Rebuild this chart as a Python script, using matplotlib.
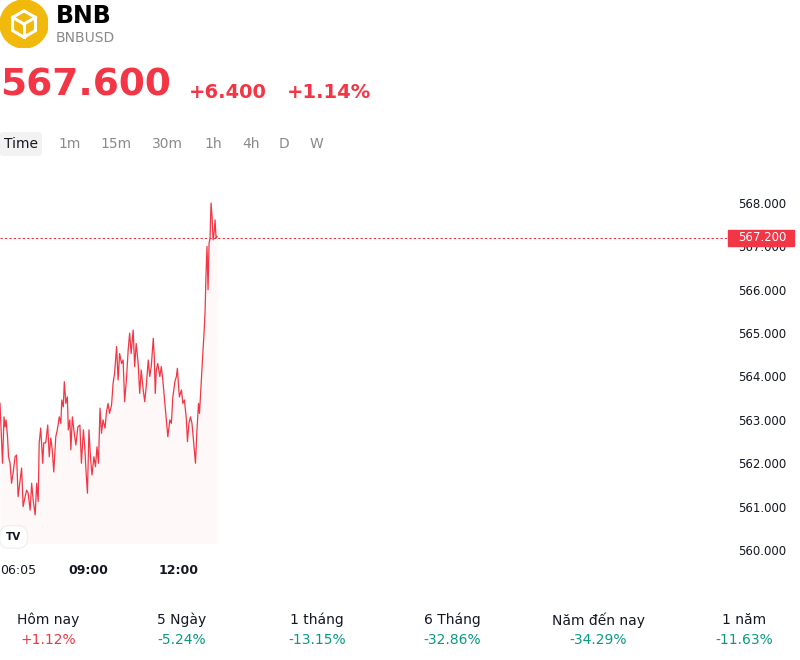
import matplotlib.pyplot as plt
import matplotlib.patches as mpatches
import numpy as np

# ── Data ────────────────────────────────────────────────
symbol = "BNB"
ticker = "BNBUSD"
last_price = "567.600"
change_abs = "+6.400"
change_pct = "+1.14%"
axis_price = 567.2
start_minute = 6 * 60 + 5  # 06:05

# minutes after 06:05 and price
minutes = [0, 3, 5, 8, 10, 12, 15, 17, 20, 23,
           26, 30, 33, 36, 40, 43, 46, 50, 53, 56,
           60, 63, 66, 70, 73, 76, 78, 81, 85, 87,
           91, 95, 98, 101, 104, 107, 111, 114, 118, 121,
           123, 126, 128, 131, 134, 136, 139, 141, 144, 147,
           151, 155, 159, 162, 166, 169, 171, 174, 177, 180,
           183, 187, 190, 193, 196, 199, 202, 205, 209, 212,
           215, 218, 222, 225, 228, 232, 235, 238, 242, 245,
           248, 252, 255, 258, 261, 265, 268, 271, 275, 278,
           281, 285, 288, 291, 295, 298, 301, 305, 307, 309,
           311, 314, 318, 321, 324, 328, 331, 334, 338, 341,
           344, 348, 351, 353, 355, 357, 361, 364, 367, 371,
           373, 376, 379, 382, 385, 389, 392, 395, 397, 401,
           404, 406, 408, 410, 412, 414, 416, 418, 420, 422,
           424, 426, 428, 430, 432]
prices = [563.38, 562.54, 562.0, 563.07, 562.84, 563.0, 562.61, 562.15, 562.0, 561.54,
          561.77, 562.15, 562.19, 561.23, 561.61, 561.89, 561.0, 561.23, 561.38, 561.31,
          560.92, 561.54, 561.15, 560.81, 561.54, 561.12, 562.47, 562.81, 562.0, 562.47,
          562.47, 562.88, 562.15, 562.58, 562.31, 561.8, 562.61, 562.77, 563.07, 562.92,
          563.46, 563.30, 563.88, 563.38, 563.53, 562.77, 563.0, 562.31, 563.07, 562.77,
          562.42, 562.84, 562.88, 562.0, 562.77, 562.31, 561.85, 561.31, 562.77, 562.15,
          561.73, 562.15, 561.92, 562.38, 562.0, 563.27, 562.69, 563.0, 562.81, 563.19,
          563.38, 563.15, 563.34, 563.84, 564.07, 564.69, 563.92, 564.53, 564.30, 564.38,
          563.42, 564.0, 564.61, 565.0, 564.53, 565.07, 564.23, 564.76, 564.30, 563.61,
          564.15, 563.69, 563.42, 563.77, 564.38, 564.0, 564.23, 564.88, 564.46, 563.61,
          564.15, 564.30, 564.0, 564.23, 563.92, 563.38, 563.0, 562.61, 563.0, 562.92,
          563.53, 563.88, 564.0, 564.19, 563.84, 563.53, 563.69, 563.38, 563.46, 563.0,
          562.50, 562.92, 563.07, 562.92, 562.54, 562.0, 562.77, 563.38, 563.15, 564.0,
          564.61, 565.0, 565.46, 566.38, 567.0, 566.0, 567.07, 567.19, 568.0, 567.69,
          567.15, 567.30, 567.61, 567.19, 567.23]

y_ticks = [560, 561, 562, 563, 564, 565, 566, 567, 568]
time_ticks = [9 * 60, 12 * 60]
time_labels = ["09:00", "12:00"]
first_label = "06:05"

tabs = ["Time", "1m", "15m", "30m", "1h", "4h", "D", "W"]
periods = ["Hôm nay", "5 Ngày", "1 tháng", "6 Tháng", "Năm đến nay", "1 năm"]
period_changes = ["+1.12%", "-5.24%", "-13.15%", "-32.86%", "-34.29%", "-11.63%"]

RED = "#F23645"
GREEN = "#089981"
GREY = "#8a8a8a"
DARK = "#131722"

W, H = 800, 660


def px(x, y):
    return x / W, 1 - y / H


fig = plt.figure(figsize=(W / 100, H / 100), dpi=100)

# ── Header ──────────────────────────────────────────────
lax = fig.add_axes([0, 1 - 48 / H, 48 / W, 48 / H])
lax.set_xlim(-1, 1)
lax.set_ylim(-1, 1)
lax.set_aspect("equal")
lax.axis("off")
lax.add_patch(mpatches.Circle((0, 0), 1, color="#F0B90B"))
ang = np.deg2rad(np.arange(90, 450, 60))
hx, hy = 0.55 * np.cos(ang), 0.55 * np.sin(ang)
lax.add_patch(mpatches.Polygon(np.c_[hx, hy], closed=True, fill=False,
                               edgecolor="white", lw=2.2))
for k in (1, 3, 5):
    lax.plot([0, hx[k]], [0, hy[k]], color="white", lw=2.2)

fig.text(*px(56, 16), symbol, fontsize=17, fontweight="bold", color="black", va="center")
fig.text(*px(56, 38), ticker, fontsize=10, color=GREY, va="center")
fig.text(*px(0, 86), last_price, fontsize=27, fontweight="bold", color=RED, va="center")
fig.text(*px(189, 92), change_abs, fontsize=14, fontweight="bold", color=RED, va="center")
fig.text(*px(287, 92), change_pct, fontsize=14, fontweight="bold", color=RED, va="center")

# tabs
fig.patches.append(mpatches.FancyBboxPatch(px(0, 156), 42 / W, 24 / H,
                                           boxstyle="round,pad=0,rounding_size=0.005",
                                           transform=fig.transFigure,
                                           facecolor="#f2f2f2", edgecolor="none"))
tab_x = [4, 58, 100, 152, 204, 242, 279, 310]
for i, (t, tx) in enumerate(zip(tabs, tab_x)):
    fig.text(*px(tx, 144), t, fontsize=10, color=DARK if i == 0 else GREY, va="center")

# ── Chart ───────────────────────────────────────────────
top_px, bot_px = 165, 590
ppu = 43.375  # pixels per price unit
ymax = 568 + (203 - top_px) / ppu
ymin = 560 - (bot_px - 550) / ppu
ax = fig.add_axes([0, 1 - bot_px / H, 728 / W, (bot_px - top_px) / H])

t = np.array(minutes) + start_minute
p = np.array(prices)
ax.fill_between(t, p, 560.15, color=RED, alpha=0.03, lw=0)
ax.plot(t, p, color=RED, lw=0.9)
ax.axhline(axis_price, color=RED, lw=0.8, linestyle=(0, (2, 2)))

ax.set_xlim(start_minute, start_minute + 728 * 1.99)
ax.set_ylim(ymin, ymax)
ax.yaxis.tick_right()
ax.set_yticks(y_ticks)
ax.set_yticklabels([f"{v:.3f}" for v in y_ticks])
ax.tick_params(axis="y", length=0, pad=7, labelsize=8.5, labelcolor=DARK)
ax.set_xticks([])
for s in ax.spines.values():
    s.set_visible(False)

lab_y = (bot_px - 570) / (bot_px - top_px)
xt = ax.get_xaxis_transform()
for tt, tl in zip(time_ticks, time_labels):
    ax.text(tt, lab_y, tl, transform=xt, ha="center", va="center",
            fontsize=9, fontweight="bold", color=DARK)
fig.text(*px(0, 570), first_label, fontsize=9, color=DARK, va="center")

# current price label (drawn above the axis tick labels)
price_y = 203 + (568 - axis_price) * ppu
fig.patches.append(mpatches.Rectangle(px(728, price_y + 8), 66 / W, 16 / H,
                                      transform=fig.transFigure, color=RED, zorder=5))
fig.text(*px(738, price_y), f"{axis_price:.3f}", fontsize=8.5, color="white",
         va="center", zorder=6)

# TradingView badge
fig.text(*px(6, 537), "TV", fontsize=7.5, fontweight="heavy", color=DARK, va="center",
         bbox=dict(boxstyle="round,pad=0.6,rounding_size=0.9", facecolor="white",
                   edgecolor="#ededed", lw=0.8))

# ── Performance row ─────────────────────────────────────
centers = [48, 182, 317, 452, 598, 744]
for cx, lab, val in zip(centers, periods, period_changes):
    fig.text(*px(cx, 620), lab, fontsize=10, color=DARK, ha="center", va="center")
    fig.text(*px(cx, 640), val, fontsize=10, color=RED if val.startswith("+") else GREEN,
             ha="center", va="center")

plt.savefig("out.png", dpi=100)
